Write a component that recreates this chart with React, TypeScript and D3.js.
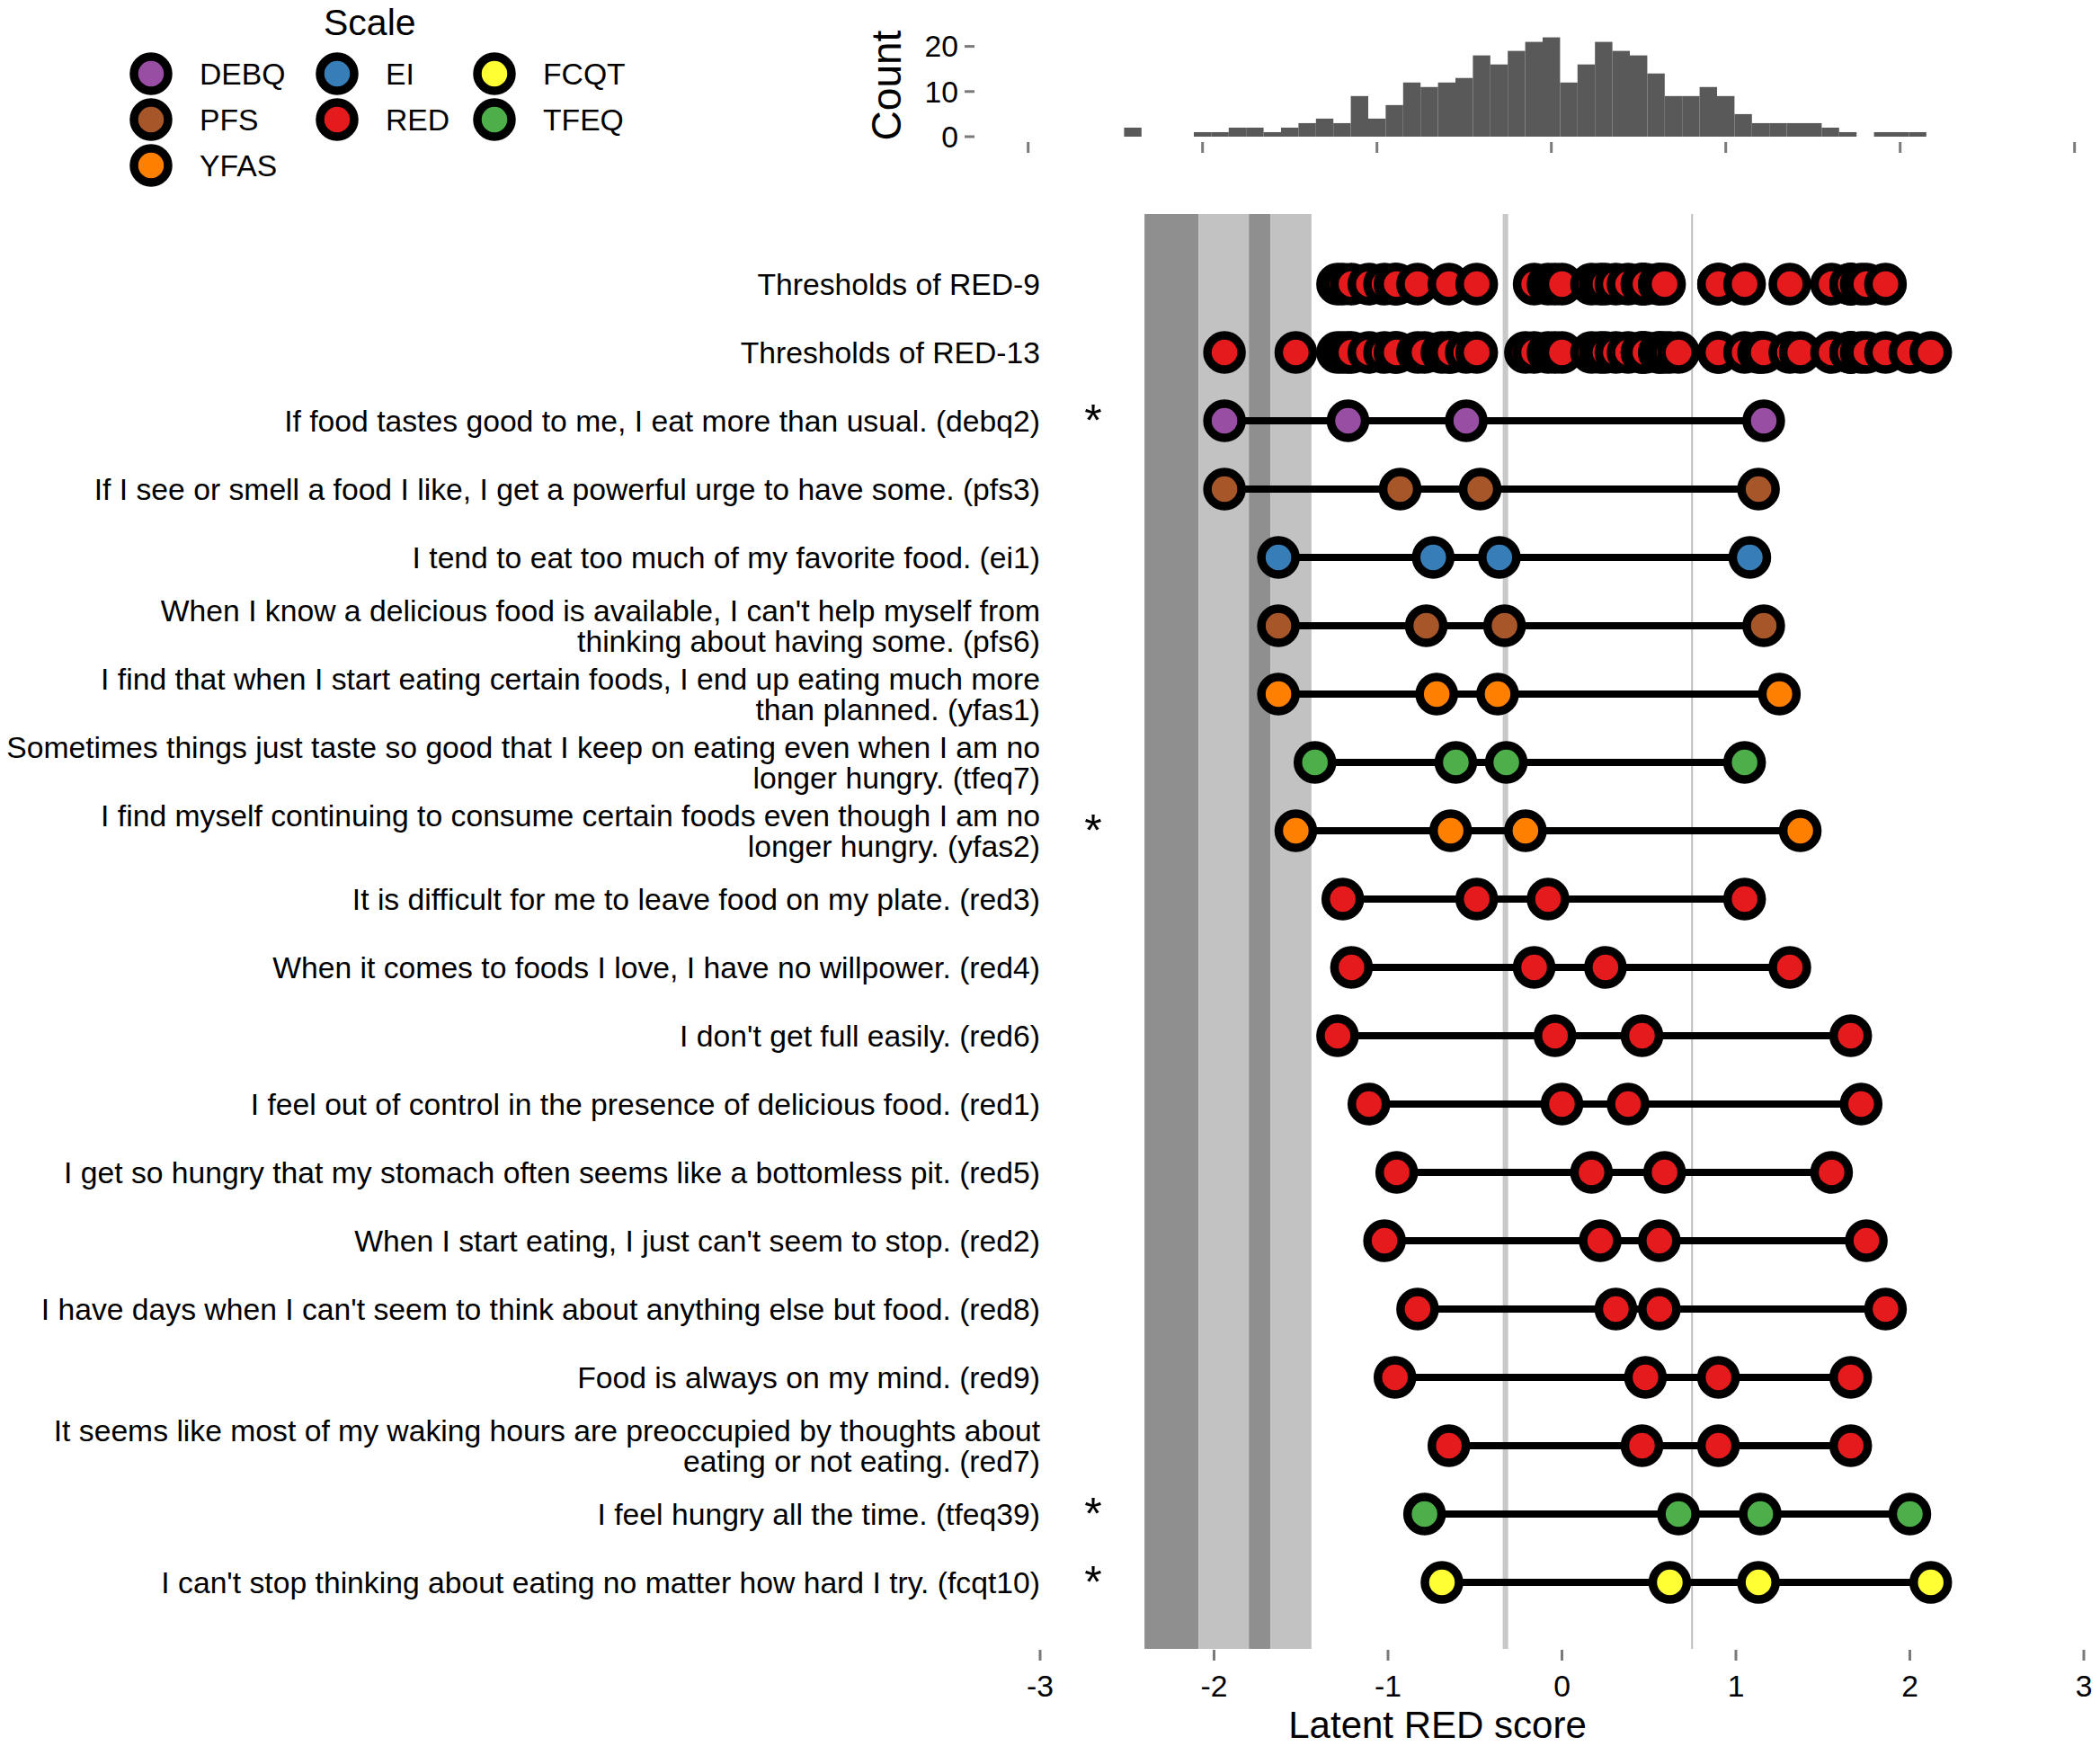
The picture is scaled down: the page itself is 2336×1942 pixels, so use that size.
import React, { useEffect } from 'react';
import * as d3 from 'd3';

const W = 2336;
const H = 1942;
const FONT = "'Liberation Sans', Arial, Helvetica, sans-serif";

// ---- Data ----
const scaleNames = ['DEBQ', 'EI', 'FCQT', 'PFS', 'RED', 'TFEQ', 'YFAS'];
const scaleColors = ['#984EA3', '#377EB8', '#FFFF33', '#A65628', '#E41A1C', '#4DAF4A', '#FF7F00'];

const thresholdRowLabels = ['Thresholds of RED-9', 'Thresholds of RED-13'];

const itemLabels = [
  'If food tastes good to me, I eat more than usual. (debq2)',
  'If I see or smell a food I like, I get a powerful urge to have some. (pfs3)',
  'I tend to eat too much of my favorite food. (ei1)',
  "When I know a delicious food is available, I can't help myself from\nthinking about having some. (pfs6)",
  'I find that when I start eating certain foods, I end up eating much more\nthan planned. (yfas1)',
  'Sometimes things just taste so good that I keep on eating even when I am no\nlonger hungry. (tfeq7)',
  'I find myself continuing to consume certain foods even though I am no\nlonger hungry. (yfas2)',
  'It is difficult for me to leave food on my plate. (red3)',
  'When it comes to foods I love, I have no willpower. (red4)',
  "I don't get full easily. (red6)",
  'I feel out of control in the presence of delicious food. (red1)',
  'I get so hungry that my stomach often seems like a bottomless pit. (red5)',
  "When I start eating, I just can't seem to stop. (red2)",
  "I have days when I can't seem to think about anything else but food. (red8)",
  'Food is always on my mind. (red9)',
  'It seems like most of my waking hours are preoccupied by thoughts about\neating or not eating. (red7)',
  'I feel hungry all the time. (tfeq39)',
  "I can't stop thinking about eating no matter how hard I try. (fcqt10)",
];

const itemScale = ['DEBQ', 'PFS', 'EI', 'PFS', 'YFAS', 'TFEQ', 'YFAS', 'RED', 'RED', 'RED', 'RED', 'RED', 'RED', 'RED', 'RED', 'RED', 'TFEQ', 'FCQT'];
const itemStarred = [true, false, false, false, false, false, true, false, false, false, false, false, false, false, false, false, true, true];

const threshold1 = [-1.94, -1.94, -1.63, -1.63, -1.63, -1.42, -1.53, -1.26, -1.21, -1.29, -1.11, -0.95, -1.02, -0.83, -0.96, -0.65, -0.79, -0.69];
const threshold2 = [-1.23, -0.93, -0.74, -0.78, -0.72, -0.61, -0.64, -0.49, -0.16, -0.04, 0.0, 0.17, 0.22, 0.31, 0.48, 0.46, 0.67, 0.62];
const threshold3 = [-0.55, -0.47, -0.36, -0.33, -0.37, -0.32, -0.21, -0.08, 0.25, 0.46, 0.38, 0.59, 0.56, 0.56, 0.9, 0.9, 1.14, 1.13];
const threshold4 = [1.16, 1.13, 1.08, 1.16, 1.25, 1.05, 1.37, 1.05, 1.31, 1.66, 1.72, 1.55, 1.75, 1.86, 1.66, 1.66, 2.0, 2.12];

const red9Thresholds = [
  -1.29, -1.26, -1.21, -1.11, -1.02, -0.96, -0.95, -0.83, -0.65, -0.49,
  -0.16, -0.08, -0.04, 0.0, 0.17, 0.22, 0.25, 0.31, 0.38,
  0.46, 0.46, 0.48, 0.56, 0.56, 0.59,
  0.9, 0.9, 1.05, 1.31, 1.55, 1.66, 1.66, 1.66, 1.72, 1.75, 1.86,
];
const red13Thresholds = [
  -1.94, -1.53, -1.29, -1.26, -1.23, -1.21, -1.11, -1.02, -0.96, -0.95,
  -0.83, -0.79, -0.69, -0.65, -0.64, -0.55, -0.49, -0.21, -0.16, -0.08,
  -0.04, 0.0, 0.17, 0.22, 0.25, 0.31, 0.38, 0.46, 0.46, 0.48,
  0.56, 0.56, 0.59, 0.62, 0.67, 0.9, 0.9, 1.05, 1.13, 1.14,
  1.16, 1.31, 1.37, 1.55, 1.66, 1.66, 1.66, 1.72, 1.75, 1.86, 2.0, 2.12,
];

const histMids = [
  -2.4, -2.3, -2.2, -2.1, -2.0, -1.9, -1.8, -1.7, -1.6, -1.5, -1.4, -1.3, -1.2, -1.1, -1.0, -0.9,
  -0.8, -0.7, -0.6, -0.5, -0.4, -0.3, -0.2, -0.1, 0.0, 0.1, 0.2, 0.3, 0.4, 0.5, 0.6, 0.7, 0.8,
  0.9, 1.0, 1.1, 1.2, 1.3, 1.4, 1.5, 1.6, 1.7, 1.8, 1.9, 2.0, 2.1,
];
const histCounts = [
  2, 0, 0, 0, 1, 1, 2, 2, 1, 2, 3, 4, 3, 9, 4, 7,
  12, 11, 12, 13, 18, 16, 19, 21, 22, 12, 16, 21, 19, 18, 14, 9, 9,
  11, 9, 5, 3, 3, 3, 3, 2, 1, 0, 1, 1, 1,
];
const histBinWidth = 0.1;

const xTicks = [-3, -2, -1, 0, 1, 2, 3];
const countTicks = [0, 10, 20];

const bandLo = [-2.4, -2.09, -1.8, -1.675];
const bandHi = [-2.09, -1.8, -1.675, -1.44];
const bandDark = [true, false, true, false];
const refLines = [-0.325, 0.748];
const refLineWidths = [6, 2];

// ---- Layout ----
const xMain = d3.scaleLinear().domain([-3, 3]).range([1157, 2318]);
const xHist = d3.scaleLinear().domain([-3, 3]).range([1143.7, 2307.7]);
const yHist = d3.scaleLinear().domain([0, 20]).range([152, 51.6]);
const rowIdx = d3.range(thresholdRowLabels.length + itemLabels.length);
const yRow = d3.scalePoint<number>().domain(rowIdx).range([316, 1760]);
const color = d3.scaleOrdinal<string, string>().domain(scaleNames).range(scaleColors);

const PANEL_TOP = 238;
const PANEL_BOTTOM = 1834;
const R = 19;
const SW = 9.5;
const LABEL_FS = 33.7;

function Dot({ cx, cy, fill }: { cx: number; cy: number; fill: string }) {
  return <circle cx={cx} cy={cy} r={R} fill={fill} stroke="#000" strokeWidth={SW} />;
}

function RowLabel({ text, y }: { text: string; y: number }) {
  const lines = text.split('\n');
  const off = lines.length === 1 ? [0] : [-17, 17];
  return (
    <text x={1157} textAnchor="end" fontSize={LABEL_FS} fill="#000">
      {lines.map((l, i) => (
        <tspan key={i} x={1157} y={y + off[i] + LABEL_FS * 0.35}>
          {l}
        </tspan>
      ))}
    </text>
  );
}

export default function App() {
  useEffect(() => {
    document.body.style.margin = '0';
  }, []);

  const legendColX = [168, 375, 550];
  const legendRowY = [82, 133, 184];

  return (
    <svg
      width={W}
      height={H}
      viewBox={`0 0 ${W} ${H}`}
      style={{ display: 'block', position: 'absolute', left: 0, top: 0, background: '#fff' }}
      fontFamily={FONT}
    >
      <rect x={0} y={0} width={W} height={H} fill="#fff" />

      {/* Legend */}
      <text x={360} y={39} fontSize={41} fill="#000">
        Scale
      </text>
      {scaleNames.map((s, i) => {
        const cx = legendColX[i % 3];
        const cy = legendRowY[Math.floor(i / 3)];
        return (
          <g key={s}>
            <Dot cx={cx} cy={cy} fill={color(s)} />
            <text x={cx + 54} y={cy + LABEL_FS * 0.35} fontSize={LABEL_FS} fill="#000">
              {s}
            </text>
          </g>
        );
      })}

      {/* Histogram */}
      {histMids.map((m, i) =>
        histCounts[i] > 0 ? (
          <rect
            key={i}
            x={xHist(m - histBinWidth / 2)}
            width={xHist(m + histBinWidth / 2) - xHist(m - histBinWidth / 2)}
            y={yHist(histCounts[i])}
            height={yHist(0) - yHist(histCounts[i])}
            fill="#595959"
          />
        ) : null
      )}
      {xTicks.map((t) => (
        <line key={t} x1={xHist(t)} x2={xHist(t)} y1={158} y2={170} stroke="#7a7a7a" strokeWidth={3} />
      ))}
      {countTicks.map((t) => (
        <g key={t}>
          <line x1={1073} x2={1084} y1={yHist(t)} y2={yHist(t)} stroke="#7a7a7a" strokeWidth={3} />
          <text x={1066} y={yHist(t) + LABEL_FS * 0.35} textAnchor="end" fontSize={LABEL_FS} fill="#000">
            {t}
          </text>
        </g>
      ))}
      <text transform={`translate(1002,95) rotate(-90)`} textAnchor="middle" fontSize={46} fill="#000">
        Count
      </text>

      {/* Bands */}
      {bandLo.map((lo, i) => (
        <rect
          key={i}
          x={xMain(lo)}
          width={xMain(bandHi[i]) - xMain(lo)}
          y={PANEL_TOP}
          height={PANEL_BOTTOM - PANEL_TOP}
          fill={bandDark[i] ? '#8f8f8f' : '#c2c2c2'}
        />
      ))}
      {refLines.map((v, i) => (
        <line
          key={i}
          x1={xMain(v)}
          x2={xMain(v)}
          y1={PANEL_TOP}
          y2={PANEL_BOTTOM}
          stroke={i === 0 ? '#c8c8c8' : '#bdbdbd'}
          strokeWidth={refLineWidths[i]}
        />
      ))}

      {/* Threshold rows */}
      {[red9Thresholds, red13Thresholds].map((arr, r) => (
        <g key={r}>
          {arr.map((v, j) => (
            <Dot key={j} cx={xMain(v)} cy={yRow(r)!} fill={color('RED')} />
          ))}
        </g>
      ))}

      {/* Items */}
      {itemLabels.map((lab, i) => {
        const y = yRow(i + 2)!;
        const vals = [threshold1[i], threshold2[i], threshold3[i], threshold4[i]];
        const ext = d3.extent(vals) as [number, number];
        return (
          <g key={i}>
            <line x1={xMain(ext[0])} x2={xMain(ext[1])} y1={y} y2={y} stroke="#000" strokeWidth={8} />
            {vals.map((v, j) => (
              <Dot key={j} cx={xMain(v)} cy={y} fill={color(itemScale[i])} />
            ))}
          </g>
        );
      })}

      {/* Row labels */}
      {thresholdRowLabels.map((l, r) => (
        <RowLabel key={'t' + r} text={l} y={yRow(r)!} />
      ))}
      {itemLabels.map((l, i) => (
        <RowLabel key={'i' + i} text={l} y={yRow(i + 2)!} />
      ))}
      {itemStarred.map((s, i) =>
        s ? (
          <text key={'s' + i} x={1216} y={yRow(i + 2)! + 17} textAnchor="middle" fontSize={50} fill="#000">
            *
          </text>
        ) : null
      )}

      {/* X axis */}
      {xTicks.map((t) => (
        <g key={t}>
          <line x1={xMain(t)} x2={xMain(t)} y1={1835} y2={1847} stroke="#7a7a7a" strokeWidth={3} />
          <text x={xMain(t)} y={1875 + LABEL_FS * 0.35} textAnchor="middle" fontSize={LABEL_FS} fill="#000">
            {t}
          </text>
        </g>
      ))}
      <text x={1599} y={1933} textAnchor="middle" fontSize={42} fill="#000">
        Latent RED score
      </text>
    </svg>
  );
}
